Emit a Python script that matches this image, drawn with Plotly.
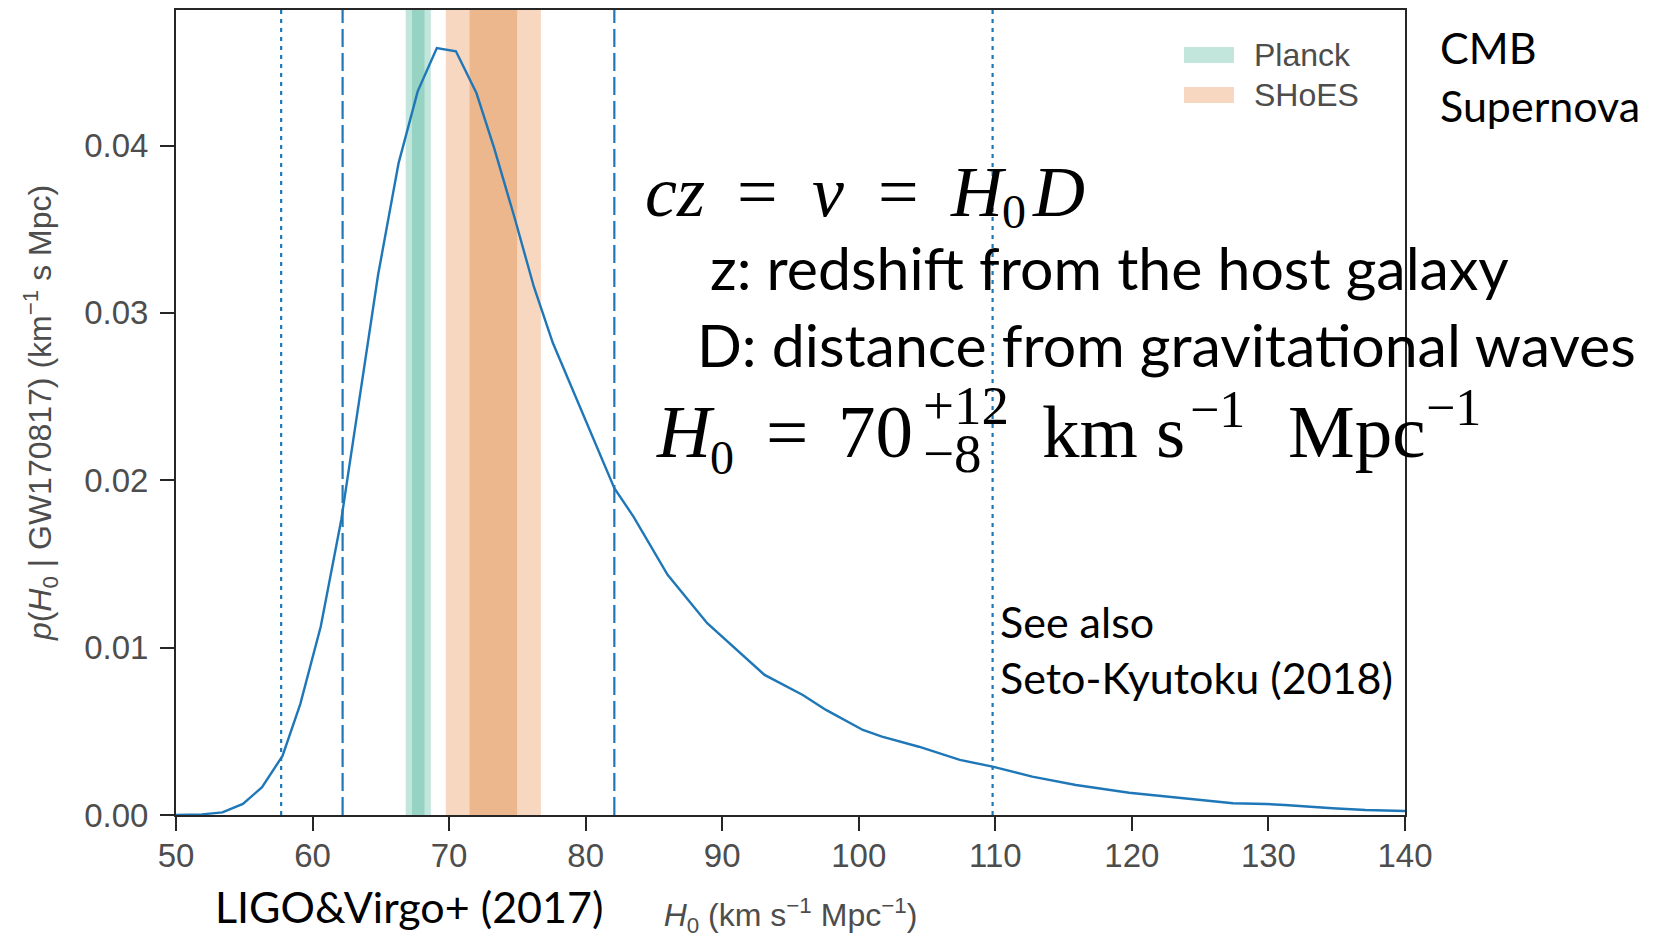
import plotly.graph_objects as go

# ---------------- data ----------------
h0 = [50.0, 51.9, 53.4, 54.9, 56.3, 57.8, 59.1, 60.6, 62.1, 64.8, 66.3, 67.7, 69.1,
      70.5, 72.0, 73.3, 74.8, 76.2, 77.6, 82.1, 83.5, 86.0, 88.9, 93.1, 95.9, 97.6,
      100.3, 101.7, 104.4, 105.9, 107.4, 109.8, 112.7, 115.9, 119.8, 122.7, 123.9,
      127.4, 129.8, 131.2, 134.7, 137.1, 140.0]
posterior = [0.0, 0.00004, 0.00016, 0.00066, 0.00166, 0.00353, 0.00663, 0.01126,
             0.01763, 0.03228, 0.03895, 0.04324, 0.04583, 0.04563, 0.04314, 0.03985,
             0.03567, 0.03158, 0.0282, 0.01953, 0.01783, 0.01435, 0.01146, 0.00837,
             0.00717, 0.00628, 0.00508, 0.00468, 0.00408, 0.00369, 0.00329, 0.00289,
             0.00229, 0.00179, 0.00133, 0.00109, 0.00100, 0.00070, 0.00066, 0.00060,
             0.00040, 0.00030, 0.00024]

ci68 = [62.2, 82.1]     # dashed lines
ci95 = [57.7, 109.8]    # dotted lines

planck_mean, planck_sig = 67.74, 0.46
shoes_mean, shoes_sig = 73.24, 1.74

x_ticks = [50, 60, 70, 80, 90, 100, 110, 120, 130, 140]
y_ticks = [0.0, 0.01, 0.02, 0.03, 0.04]
legend_names = ["Planck", "SHoES"]
legend_notes = ["CMB", "Supernova"]

# ---------------- styles ----------------
BLUE = "#1f77b8"
PL_OUT, PL_IN = "#c3e6dc", "#96d3c2"
SH_OUT, SH_IN = "#f7d7c0", "#ecb78d"
AX = "#262626"
TXT = "#4d4d4d"

W, H = 1660, 939
L, R, T, B = 176, 1405, 10, 815


def px(xp):
    return (xp - L) / (R - L)


def py(yp):
    return (B - yp) / (B - T)


fig = go.Figure()

# bands (2 sigma then 1 sigma)
for m, s, co, ci in [(planck_mean, planck_sig, PL_OUT, PL_IN),
                     (shoes_mean, shoes_sig, SH_OUT, SH_IN)]:
    fig.add_vrect(x0=m - 2 * s, x1=m + 2 * s, fillcolor=co, line_width=0,
                  layer="below", opacity=1)
    fig.add_vrect(x0=m - s, x1=m + s, fillcolor=ci, line_width=0,
                  layer="below", opacity=1)

for v in ci68:
    fig.add_vline(x=v, line=dict(color=BLUE, width=2.2, dash="18px,6px"))
for v in ci95:
    fig.add_vline(x=v, line=dict(color=BLUE, width=2.2, dash="4px,5px"))

fig.add_trace(go.Scatter(x=h0, y=posterior, mode="lines",
                         line=dict(color=BLUE, width=2.4), showlegend=False,
                         hoverinfo="x+y"))

# manual legend
for i, (name, col) in enumerate(zip(legend_names, [PL_OUT, SH_OUT])):
    yc = 55 + i * 40
    fig.add_shape(type="rect", xref="paper", yref="paper",
                  x0=px(1184), x1=px(1234), y0=py(yc + 8), y1=py(yc - 8),
                  fillcolor=col, line_width=0)
    fig.add_annotation(xref="paper", yref="paper", x=px(1252), y=py(yc),
                       text=name, showarrow=False, xanchor="left", yanchor="middle",
                       font=dict(family="Liberation Sans", size=32, color=TXT))

BODY = "Lato"
MATH = "Liberation Serif"


def note(text, xl, yc, size, family=BODY, color="black"):
    fig.add_annotation(xref="paper", yref="paper", x=px(xl), y=py(yc), text=text,
                       showarrow=False, xanchor="left", yanchor="middle",
                       font=dict(family=family, size=size, color=color))


note(legend_notes[0], 1438, 47, 43)
note(legend_notes[1], 1438, 105, 43)

# cz = v = H0 D
note("<i>cz</i>", 643, 192, 72, MATH)
note("=", 735, 192, 72, MATH)
note("<i>v</i>", 810, 192, 72, MATH)
note("=", 876, 192, 72, MATH)
note("<i>H</i>", 948, 192, 72, MATH)
note("0", 1000, 212, 48, MATH)
note("<i>D</i>", 1030, 192, 72, MATH)

note("z: redshift from the host galaxy", 708, 267, 59)
note("D: distance from gravitational waves", 695, 344, 59)

# H0 = 70 +12 -8 km s^-1 Mpc^-1
note("<i>H</i>", 654, 431, 75, MATH)
note("0", 708, 457, 48, MATH)
note("=", 764, 431, 75, MATH)
note("70", 836, 431, 75, MATH)
note("+12", 921, 406, 55, MATH)
note("−8", 921, 453, 55, MATH)
note("km", 1040, 431, 75, MATH)
note("s", 1154, 431, 75, MATH)
note("−1", 1188, 409, 52, MATH)
note("Mpc", 1286, 431, 75, MATH)
note("−1", 1424, 407, 52, MATH)

note("See also", 998, 621, 43)
note("Seto-Kyutoku (2018)", 998, 677, 43)
note("LIGO&amp;Virgo+ (2017)", 213, 906, 43)

fig.update_xaxes(range=[50, 140], tickvals=x_ticks, ticks="outside", ticklen=14,
                 tickwidth=2, tickcolor=AX, showline=True, linecolor=AX, linewidth=2,
                 mirror=True, showgrid=False, zeroline=False, ticklabelstandoff=-4,
                 tickfont=dict(family="Liberation Sans", size=33, color=TXT),
                 title=dict(text="<i>H</i><sub>0</sub> (km s<sup>−1</sup> Mpc<sup>−1</sup>)",
                            font=dict(family="Liberation Sans", size=32, color=TXT),
                            standoff=31))
fig.update_yaxes(range=[0, 0.0481], tickvals=y_ticks, tickformat=".2f",
                 ticks="outside", ticklen=14, tickwidth=2, tickcolor=AX,
                 showline=True, linecolor=AX, linewidth=2, mirror=True,
                 showgrid=False, zeroline=False, ticklabelstandoff=5,
                 tickfont=dict(family="Liberation Sans", size=33, color=TXT),
                 title=dict(text="<i>p</i>(<i>H</i><sub>0</sub> | GW170817) (km<sup>−1</sup> s Mpc)",
                            font=dict(family="Liberation Sans", size=32, color=TXT),
                            standoff=23))

fig.update_layout(width=W, height=H, plot_bgcolor="white", paper_bgcolor="white",
                  margin=dict(l=L, r=W - R, t=T, b=H - B, autoexpand=False),
                  showlegend=False)

fig.write_html("out.html")
